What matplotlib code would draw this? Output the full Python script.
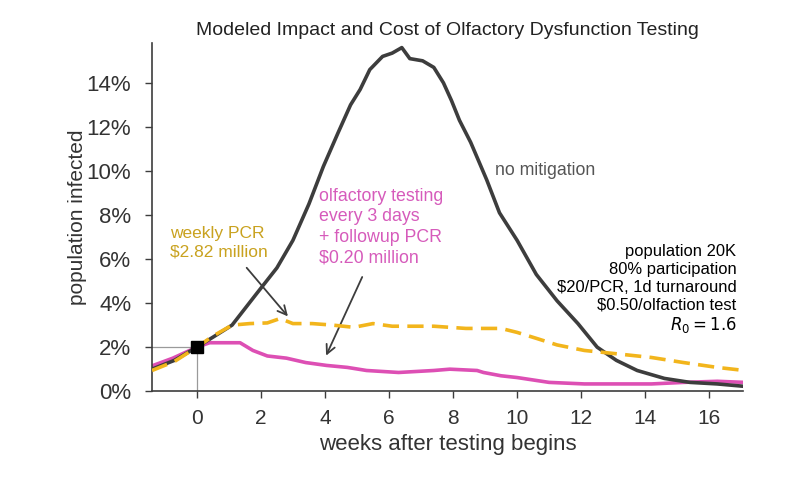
import matplotlib
matplotlib.use("Agg")
import matplotlib.pyplot as plt
from matplotlib.ticker import FuncFormatter

# ---------------------------------------------------------------------------
# Data
# ---------------------------------------------------------------------------
weeks_none = [-1.4, -0.7, 0.0, 0.5, 1.1, 1.85, 2.5, 3.0, 3.5, 3.95, 4.4, 4.8,
              5.1, 5.4, 5.8, 6.1, 6.4, 6.65, 7.05, 7.4, 7.7, 7.95, 8.2, 8.55,
              9.05, 9.45, 10.0, 10.6, 11.25, 11.9, 12.5, 13.1, 13.75, 14.6,
              15.4, 16.25, 17.1]
infected_none = [1.0, 1.4, 2.0, 2.45, 3.0, 4.4, 5.6, 6.85, 8.5, 10.2, 11.7, 13.0,
                 13.7, 14.6, 15.2, 15.35, 15.6, 15.1, 15.0, 14.7, 14.0, 13.2, 12.3, 11.3,
                 9.6, 8.1, 6.85, 5.3, 4.1, 3.07, 2.0, 1.4, 0.94, 0.58,
                 0.4, 0.33, 0.22]

weeks_pcr = [-1.4, -0.7, 0.0, 0.5, 1.1, 1.65, 2.2, 2.6, 3.0, 3.6, 4.25, 4.9, 5.5,
             6.1, 7.4, 7.9, 8.4, 9.5, 10.0, 10.6, 11.25, 12.1, 13.1, 14.2, 15.2,
             16.25, 17.1]
infected_pcr = [0.94, 1.35, 2.0, 2.5, 3.0, 3.07, 3.1, 3.3, 3.07, 3.07, 3.0, 2.9, 3.07,
                2.95, 2.95, 2.9, 2.85, 2.85, 2.67, 2.4, 2.1, 1.85, 1.7, 1.53, 1.3,
                1.08, 0.94]

weeks_olf = [-1.4, -0.75, 0.0, 0.4, 1.1, 1.35, 1.75, 2.2, 2.8, 3.4, 4.05, 4.7, 5.3,
             6.3, 7.4, 7.9, 8.75, 8.95, 9.5, 10.0, 11.0, 12.1, 13.1, 14.2, 15.2,
             16.25, 17.1]
infected_olf = [1.15, 1.5, 2.0, 2.2, 2.2, 2.2, 1.85, 1.6, 1.5, 1.3, 1.17, 1.08, 0.94,
                0.85, 0.94, 1.0, 0.94, 0.85, 0.7, 0.62, 0.4, 0.33, 0.33, 0.33, 0.4,
                0.45, 0.4]

start_week = 0
start_infected = 2.0

x_ticks = [0, 2, 4, 6, 8, 10, 12, 14, 16]
y_ticks = [0, 2, 4, 6, 8, 10, 12, 14]

assumptions = ["population 20K", "80% participation", "$20/PCR, 1d turnaround",
               "$0.50/olfaction test", r"$R_0 = 1.6$"]

# ---------------------------------------------------------------------------
# Styling
# ---------------------------------------------------------------------------
DARK = "#3d3d3d"
GOLD = "#f2b51c"
GOLD_TEXT = "#c9a21f"
MAGENTA = "#dd4fb4"
MAGENTA_TEXT = "#d65bbb"

NARROW = ["Liberation Sans Narrow", "Liberation Sans", "DejaVu Sans"]
plt.rcParams["font.family"] = ["Liberation Sans", "DejaVu Sans"]
plt.rcParams["mathtext.fontset"] = "dejavusans"

fig = plt.figure(figsize=(8, 4.8), dpi=100)
ax = fig.add_axes([0.19, 0.185, 0.739, 0.725])

# guide lines to the start marker
ax.plot([start_week, start_week], [0, start_infected], color="#9a9a9a", lw=0.9, zorder=1)
ax.plot([-1.4, start_week], [start_infected, start_infected], color="#9a9a9a", lw=0.9, zorder=1)

ax.plot(weeks_olf, infected_olf, color=MAGENTA, lw=2.6, zorder=2)
ax.plot(weeks_none, infected_none, color=DARK, lw=2.6, zorder=3)
ax.plot(weeks_pcr, infected_pcr, color=GOLD, lw=2.6, ls=(0, (4.5, 2.3)), zorder=4)
ax.plot([start_week], [start_infected], marker="s", ms=9, color="black", zorder=5)

ax.set_xlim(-1.4, 17.06)
ax.set_ylim(0, 15.8)
ax.set_xticks(x_ticks)
ax.set_yticks(y_ticks)
ax.yaxis.set_major_formatter(FuncFormatter(lambda v, p: f"{v:.0f}%"))

for side in ("top", "right"):
    ax.spines[side].set_visible(False)
for side in ("left", "bottom"):
    ax.spines[side].set_color(DARK)
    ax.spines[side].set_linewidth(1.2)
ax.tick_params(axis="both", colors=DARK, length=5, width=1.0, labelcolor="#333333")
ax.tick_params(axis="y", labelsize=16, pad=10)
ax.tick_params(axis="x", labelsize=15, pad=8)

ax.set_xlabel("weeks after testing begins", fontsize=16, family=NARROW,
              color="#333333", labelpad=4)
ax.set_ylabel("population infected", fontsize=15, color="#333333", labelpad=0)
fig.text(0.559, 0.936, "Modeled Impact and Cost of Olfactory Dysfunction Testing",
         ha="center", va="center", fontsize=14, family=NARROW, color="#222222")

# annotations
ax.text(-0.85, 6.75, "weekly PCR\n$2.82 million", color=GOLD_TEXT, fontsize=12.5,
        ha="left", va="center", linespacing=1.3)
ax.text(3.8, 7.45, "olfactory testing\nevery 3 days\n+ followup PCR\n$0.20 million",
        color=MAGENTA_TEXT, fontsize=12.8, ha="left", va="center", linespacing=1.28)
ax.text(9.3, 10.0, "no mitigation", color="#555555", fontsize=12.8,
        ha="left", va="center")
ax.text(16.85, 4.6, "\n".join(assumptions), color="black", fontsize=11.9,
        ha="right", va="center", linespacing=1.22)

arrow = dict(arrowstyle="->", color=DARK, lw=1.3, mutation_scale=16)
ax.annotate("", xy=(2.9, 3.3), xytext=(1.5, 5.7), arrowprops=arrow)
ax.annotate("", xy=(4.0, 1.5), xytext=(5.2, 5.3), arrowprops=arrow)

fig.savefig("out.png", dpi=100)
